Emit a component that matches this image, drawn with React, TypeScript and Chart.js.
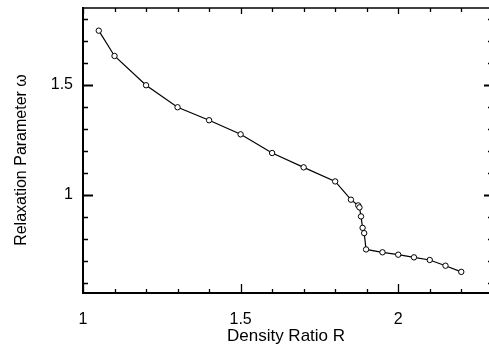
import React, { useEffect, useRef } from "react";
import { Chart, registerables } from "chart.js";

Chart.register(...registerables);

const densityRatio = [1.05, 1.1, 1.2, 1.3, 1.4, 1.5, 1.6, 1.7, 1.8, 1.85, 1.873, 1.877, 1.882, 1.887, 1.892, 1.898, 1.95, 2.0, 2.05, 2.1, 2.15, 2.2];
const relaxation = [1.747, 1.632, 1.499, 1.399, 1.34, 1.276, 1.191, 1.126, 1.062, 0.979, 0.953, 0.944, 0.903, 0.851, 0.827, 0.753, 0.74, 0.729, 0.717, 0.705, 0.679, 0.651];

const xTickLabels = [1, 1.5, 2];
const yTickLabels = [1, 1.5];
const xMinorTicks = [1.0, 1.1, 1.2, 1.3, 1.4, 1.5, 1.6, 1.7, 1.8, 1.9, 2.0, 2.1, 2.2];
const yMinorTicks = [0.6, 0.7, 0.8, 0.9, 1.0, 1.1, 1.2, 1.3, 1.4, 1.5, 1.6, 1.7, 1.8];

const xTitle = "Density Ratio R";
const yTitle = "Relaxation Parameter \u03c9";

const FONT = "'Liberation Sans', Arial, Helvetica, sans-serif";

const framePlugin = {
  id: "frame",
  afterDraw(chart: any) {
    const { ctx, chartArea } = chart;
    const xs = chart.scales.x;
    const ys = chart.scales.y;
    const { left, right, top, bottom } = chartArea;
    ctx.save();
    ctx.strokeStyle = "#000";
    ctx.lineWidth = 1.5;
    ctx.beginPath();
    ctx.moveTo(left, top);
    ctx.lineTo(right + 2, top);
    ctx.stroke();
    const isMajor = (v: number, majors: number[]) => majors.some((m) => Math.abs(m - v) < 1e-6);
    xMinorTicks.forEach((v) => {
      const px = Math.round(xs.getPixelForValue(v)) + 0.5;
      const major = isMajor(v, xTickLabels);
      ctx.lineWidth = 1.3;
      ctx.beginPath();
      ctx.moveTo(px, bottom);
      ctx.lineTo(px, bottom - (major ? 9 : 4));
      ctx.moveTo(px, top);
      ctx.lineTo(px, top + (major ? 6 : 4));
      ctx.stroke();
    });
    yMinorTicks.forEach((v) => {
      const py = Math.round(ys.getPixelForValue(v)) + 0.5;
      const major = isMajor(v, yTickLabels);
      ctx.lineWidth = major ? 2 : 1.5;
      ctx.beginPath();
      ctx.moveTo(left, py);
      ctx.lineTo(left + (major ? 10 : 5), py);
      ctx.moveTo(right + 1, py);
      ctx.lineTo(right + 1 - (major ? 6 : 2), py);
      ctx.stroke();
    });
    ctx.fillStyle = "#000";
    ctx.textAlign = "center";
    ctx.textBaseline = "middle";
    ctx.font = "17px " + FONT;
    ctx.fillText(xTitle, (left + right) / 2, 336);
    ctx.translate(22, 160);
    ctx.rotate(-Math.PI / 2);
    ctx.font = "16px " + FONT;
    ctx.fillText(yTitle, 0, 0);
    ctx.restore();
  },
};

const zeroPad = (s: any) => {
  s.paddingTop = 0;
  s.paddingBottom = 0;
  s.paddingLeft = 0;
  s.paddingRight = 0;
};

export default function App() {
  const ref = useRef<HTMLCanvasElement>(null);
  useEffect(() => {
    if (!ref.current) return;
    const chart = new Chart(ref.current, {
      type: "scatter",
      data: {
        datasets: [
          {
            data: densityRatio.map((x, i) => ({ x, y: relaxation[i] })),
            showLine: true,
            borderColor: "#000",
            borderWidth: 1.2,
            pointRadius: 2.7,
            pointBorderWidth: 1,
            pointBorderColor: "#000",
            pointBackgroundColor: "#fff",
            tension: 0,
          },
        ],
      },
      plugins: [framePlugin],
      options: {
        animation: false,
        responsive: false,
        events: [],
        layout: { autoPadding: false, padding: { top: 8, right: 0, left: 0, bottom: 0 } },
        plugins: { legend: { display: false }, tooltip: { enabled: false } },
        scales: {
          x: {
            type: "linear",
            min: 1,
            max: 2.288,
            afterFit: (s: any) => {
              s.height = 54;
              zeroPad(s);
            },
            afterBuildTicks: (s: any) => {
              s.ticks = xTickLabels.map((value) => ({ value }));
            },
            grid: { display: true, drawOnChartArea: false, drawTicks: false },
            border: { display: true, color: "#000", width: 2 },
            ticks: {
              color: "#000",
              font: { family: FONT, size: 16 },
              padding: 17,
              maxRotation: 0,
              autoSkip: false,
              callback: (v: any) => String(v),
            },
          },
          y: {
            type: "linear",
            min: 0.555,
            max: 1.85,
            afterFit: (s: any) => {
              s.width = 83;
              zeroPad(s);
            },
            afterBuildTicks: (s: any) => {
              s.ticks = yTickLabels.map((value) => ({ value }));
            },
            grid: { display: true, drawOnChartArea: false, drawTicks: false },
            border: { display: true, color: "#000", width: 2 },
            ticks: {
              color: "#000",
              font: { family: FONT, size: 16 },
              padding: 10,
              autoSkip: false,
              callback: (v: any) => String(v),
            },
          },
        },
      },
    });
    return () => chart.destroy();
  }, []);
  return (
    <div style={{ position: "fixed", left: 0, top: 0, width: 489, height: 347, background: "#fff" }}>
      <canvas ref={ref} width={489} height={347} style={{ width: 489, height: 347, display: "block" }} />
    </div>
  );
}
